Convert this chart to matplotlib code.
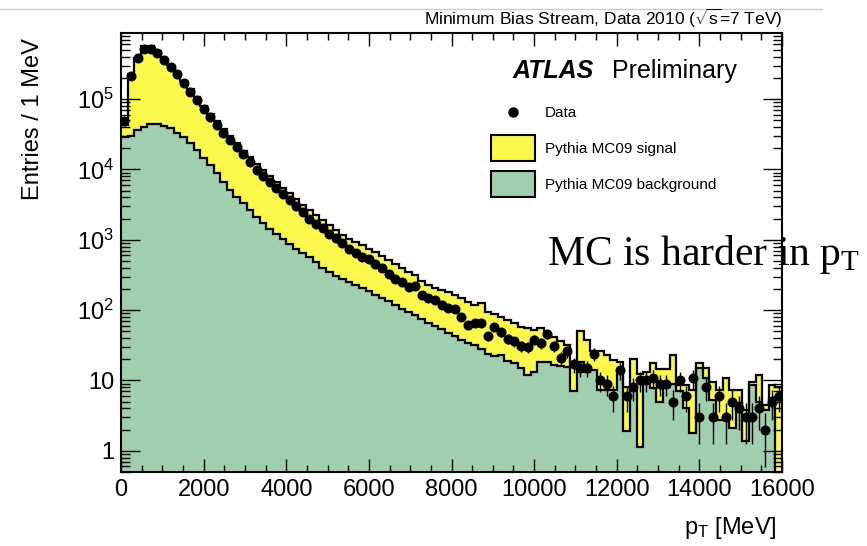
import numpy as np
import matplotlib
matplotlib.use('Agg')
import matplotlib.pyplot as plt
from matplotlib.lines import Line2D
from matplotlib.patches import Rectangle
from matplotlib.ticker import FixedLocator, LogLocator, MultipleLocator, NullFormatter

plt.rcParams['font.family'] = ['Liberation Sans', 'DejaVu Sans']
plt.rcParams['mathtext.fontset'] = 'custom'
plt.rcParams['mathtext.rm'] = 'Liberation Sans'
plt.rcParams['mathtext.it'] = 'Liberation Sans:italic'
plt.rcParams['mathtext.bf'] = 'Liberation Sans:bold'

# 100 bins of 160 MeV
bin_edges = np.arange(0, 16001, 160)

data = [49000, 210000, 380000, 520000, 520000, 450000, 360000, 290000, 230000, 167000,
        127000, 97000, 73000, 55000, 43000, 33000, 26000, 20600, 16600, 12900,
        9800, 8100, 6700, 5400, 4500, 3700, 3000, 2500, 2000, 1700,
        1450, 1200, 1050, 890, 745, 640, 575, 530, 455, 394,
        325, 280, 250, 215, 220, 165, 147, 138, 117, 106,
        104, 81, 61, 66, 65, 43, 58, 49, 39, 36,
        31, 30, 38, 34, 46, 31, 21, 26, 17, 15,
        15, 24, 10, 9, 6, 14, 6, 8, 10, 10,
        11, 9, 9, 5, 10, 6, 11, 3, 8, 3,
        6, 3, 5, 4, 3, 3, 4, 2, 5, 6]

# signal + background stacked
mc_total = [43000, 225000, 385000, 560000, 560000, 480000, 385000, 310000, 245000, 180000,
            138000, 106000, 81000, 62000, 48500, 37500, 29500, 23500, 18500, 15000,
            12000, 9900, 8100, 6700, 5500, 4600, 3850, 3150, 2650, 2250,
            1900, 1620, 1380, 1180, 1040, 930, 830, 740, 660, 580,
            510, 450, 400, 350, 320, 260, 230, 205, 192, 183,
            165, 148, 130, 119, 125, 95, 88, 81, 73, 66,
            58, 55, 52, 55, 46, 42, 36, 32, 16, 50,
            38, 26, 26, 23, 19.6, 18.6, 8.2, 20, 12.4, 13,
            18, 14.5, 14.5, 23, 8.7, 8.7, 7.3, 17.6, 15, 9.6,
            7.3, 10.8, 7.3, 7.3, 3.8, 9.6, 12, 4.5, 8.7, 8.2]

mc_background = [28600, 29800, 36300, 40400, 43700, 43700, 41300, 38300, 33200, 29100,
                 23700, 18900, 14500, 11600, 8800, 6700, 5100, 4100, 3300, 2650,
                 2130, 1730, 1410, 1210, 1010, 870, 750, 650, 560, 485,
                 400, 350, 306, 277, 252, 228, 205, 185, 165, 148,
                 133, 118, 104, 95, 86, 75, 66, 60, 54, 47,
                 43, 38, 34, 32, 28, 24, 22, 23, 19, 18,
                 15, 12, 13, 18.6, 18.6, 16.5, 16, 15.7, 7, 18.6,
                 13.4, 14, 7.3, 7.3, 7.4, 12.7, 1.9, 8.2, 1.15, 11,
                 7.8, 5, 8.2, 9, 7, 4, 1.8, 15, 11, 5.3,
                 2.75, 2.75, 2.1, 4.75, 1.36, 8.7, 5, 3.8, 5.6, 0]

yticks = [1, 10, 100, 1e3, 1e4, 1e5]
ytick_labels = ['1', '10', r'$10^{2}$', r'$10^{3}$', r'$10^{4}$', r'$10^{5}$']

W, H = 867, 546
fig = plt.figure(figsize=(W / 100, H / 100), dpi=100)


def fx(px):
    return px / W


def fy(py):
    return 1 - py / H


ax = fig.add_axes([fx(121), fy(472), fx(782) - fx(121), fy(33) - fy(472)])
ax.set_yscale('log')
ax.set_xlim(0, 16000)
ax.set_ylim(0.5, 8.7e5)

yellow = '#faf84a'
green = '#a0cfad'
floor = 1e-3
bkg = np.maximum(np.array(mc_background, float), floor)
tot = np.array(mc_total, float)

# stacked histograms
ax.stairs(tot, bin_edges, baseline=bkg, fill=True, color=yellow, lw=0, zorder=1)
ax.stairs(bkg, bin_edges, baseline=floor, fill=True, color=green, lw=0, zorder=1)
ax.stairs(tot, bin_edges, baseline=None, color='k', lw=1.6, zorder=2)
ax.stairs(bkg, bin_edges, baseline=None, color='k', lw=1.6, zorder=2)

# data points with poisson errors
centers = 0.5 * (bin_edges[1:] + bin_edges[:-1])
d = np.array(data, float)
ax.errorbar(centers, d, yerr=np.sqrt(d), fmt='o', color='k', ms=6.2,
            elinewidth=1, capsize=0, zorder=5)

ax.xaxis.set_major_locator(MultipleLocator(2000))
ax.xaxis.set_minor_locator(MultipleLocator(500))
ax.yaxis.set_major_locator(FixedLocator(yticks))
ax.set_yticklabels(ytick_labels)
ax.yaxis.set_minor_locator(LogLocator(base=10, subs=np.arange(2, 10), numticks=20))
ax.yaxis.set_minor_formatter(NullFormatter())
ax.tick_params(which='both', direction='in', top=True, right=True, labelsize=17)
ax.tick_params(axis='y', which='major', length=14, width=1, pad=5)
ax.tick_params(axis='y', which='minor', length=6.5, width=1)
ax.tick_params(axis='x', which='major', length=9.5, width=1, pad=5)
ax.tick_params(axis='x', which='minor', length=5, width=1)
for s in ax.spines.values():
    s.set_linewidth(1.5)

# axis titles
fig.text(fx(777), fy(534), r'$\mathregular{p_T}$ [MeV]', ha='right', va='baseline', fontsize=17)
fig.text(fx(33), fy(38), 'Entries / 1 MeV', rotation=90, ha='center', va='top', fontsize=17)

# header
fig.add_artist(Line2D([0, fx(822)], [fy(9), fy(9)], color='#cccccc', lw=1))
fig.text(fx(783), fy(25), r'Minimum Bias Stream, Data 2010 ($\sqrt{\mathregular{s}}$=7 TeV)',
         ha='right', va='baseline', fontsize=12.5)

# ATLAS label
fig.text(fx(513), fy(78), 'ATLAS', fontsize=18, fontweight='bold', style='italic', va='baseline')
fig.text(fx(612), fy(78), 'Preliminary', fontsize=18, va='baseline')

# legend
fig.add_artist(Line2D([fx(513)], [fy(112)], marker='o', color='k', ms=6.5, ls=''))
fig.text(fx(545), fy(113), 'Data', fontsize=11, va='center')
fig.add_artist(Rectangle((fx(491), fy(161)), fx(535) - fx(491), fy(135) - fy(161),
                         facecolor=yellow, edgecolor='k', lw=1.5))
fig.text(fx(545), fy(149), 'Pythia MC09 signal', fontsize=11, va='center')
fig.add_artist(Rectangle((fx(491), fy(197)), fx(535) - fx(491), fy(171) - fy(197),
                         facecolor=green, edgecolor='k', lw=1.5))
fig.text(fx(545), fy(185), 'Pythia MC09 background', fontsize=11, va='center')

# comment on the slide
fig.text(fx(547), fy(265), r'MC is harder in $\mathregular{p_T}$', fontsize=30,
         family=['Liberation Serif', 'DejaVu Serif'], va='baseline')

fig.savefig('out.png', dpi=100)
